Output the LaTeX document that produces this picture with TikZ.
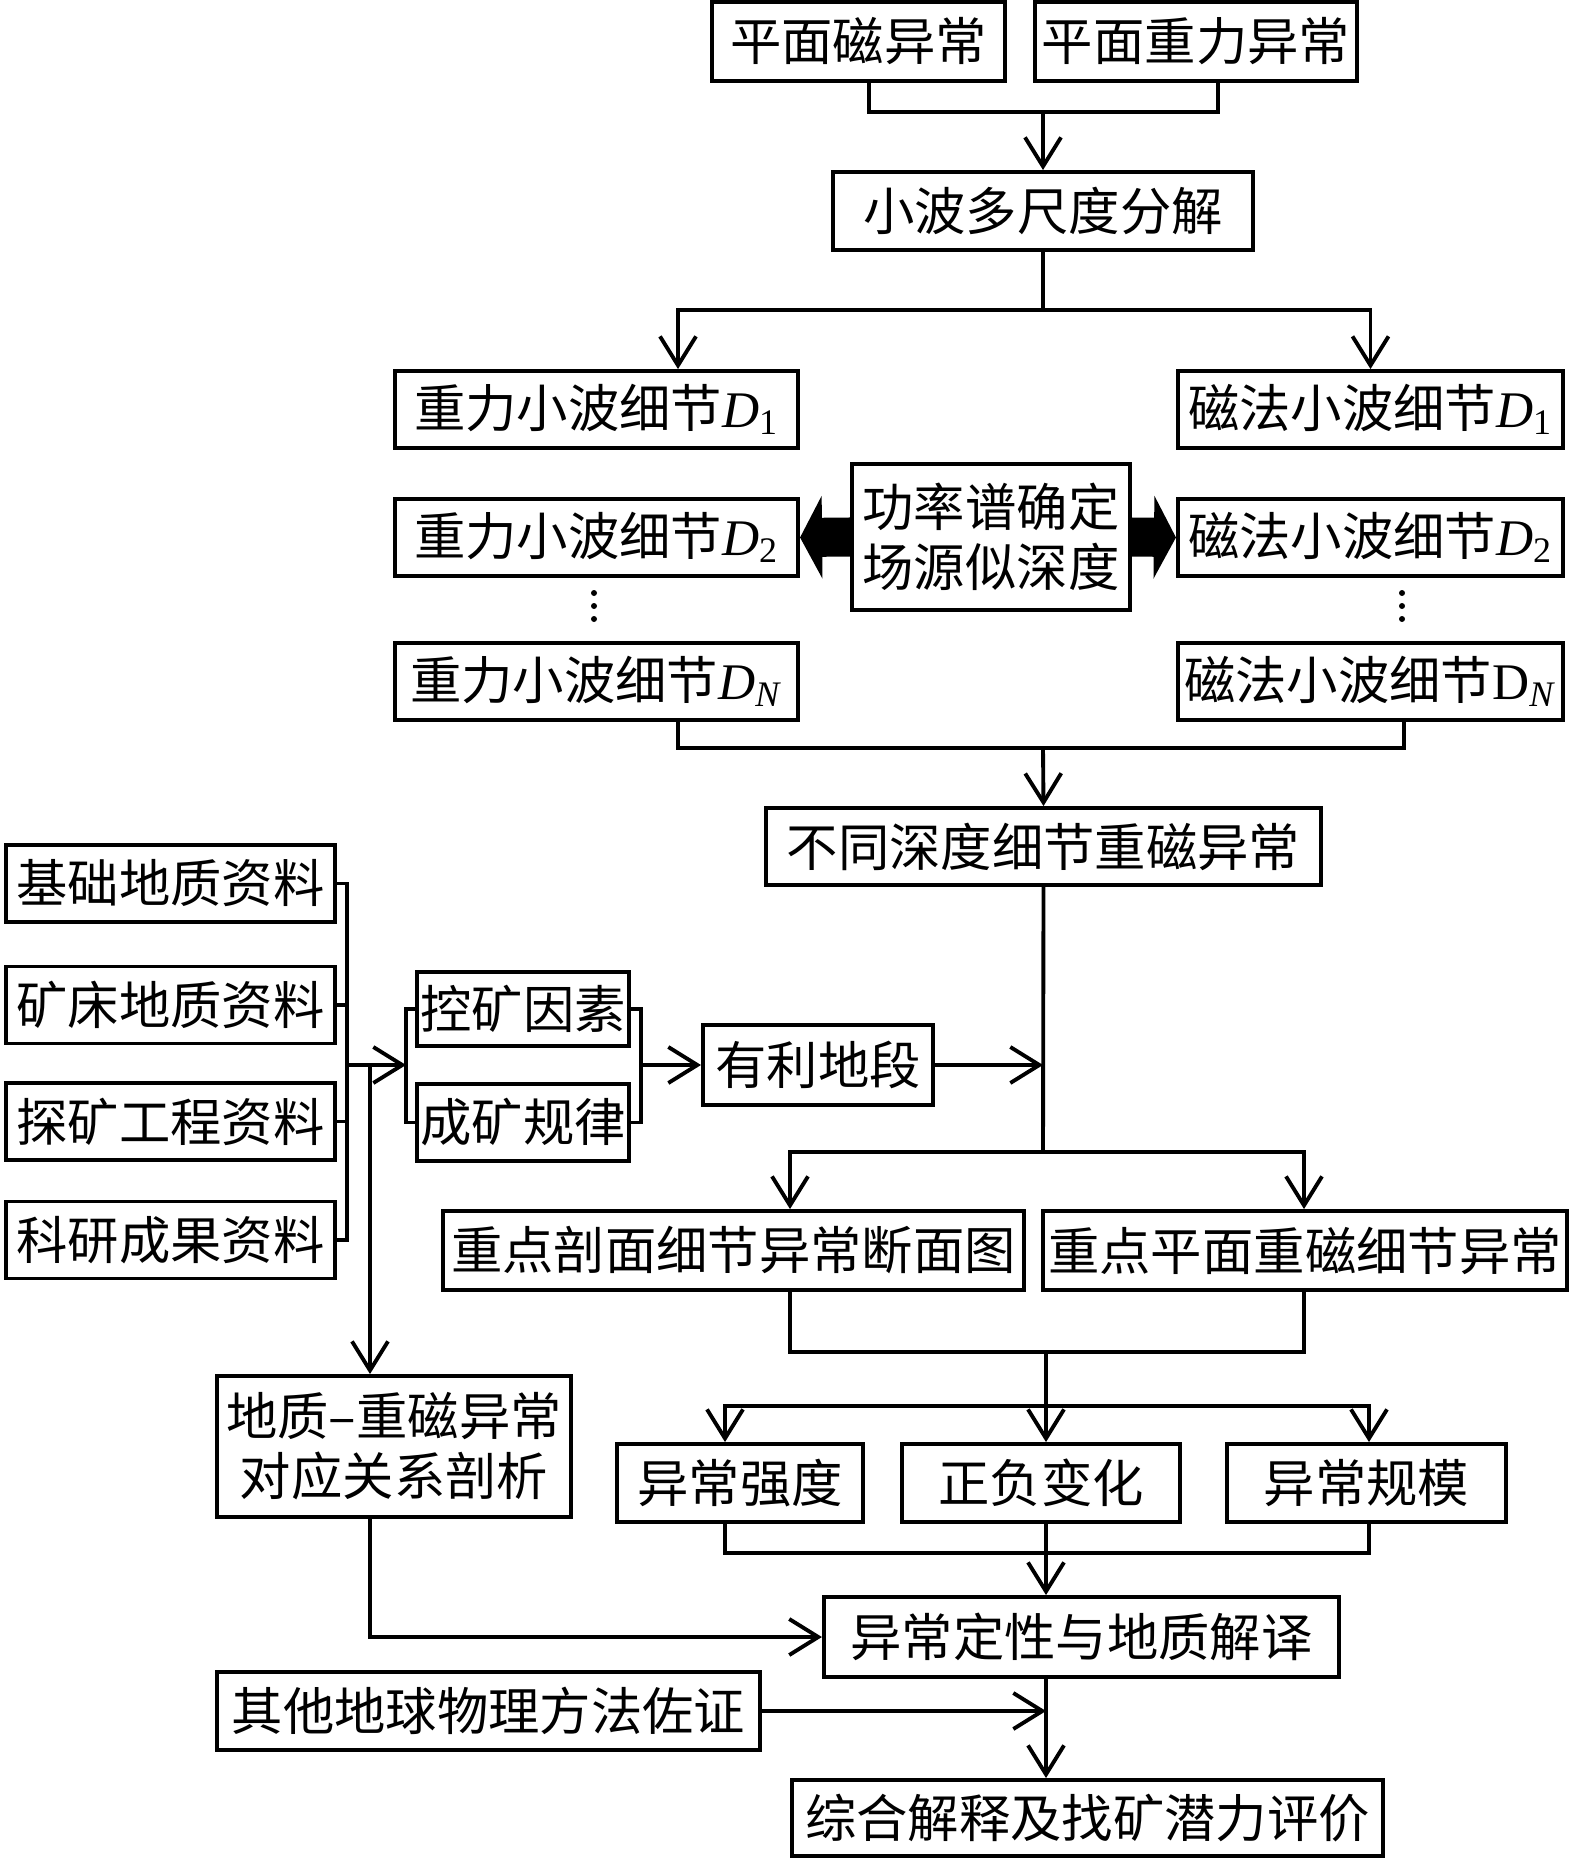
\documentclass[tikz,border=0pt]{standalone}
\usepackage{fontspec}
\setmainfont{Liberation Serif}
\newfontfamily\cjk{Noto Sans CJK SC}
\usetikzlibrary{arrows.meta,positioning}

\newcommand{\Dsub}[1]{{\rmfamily\textit{D}\textsubscript{#1}}}

\begin{document}
\begin{tikzpicture}[x=0.01cm,y=-0.01cm,line width=1.1pt,
  >={Straight Barb[length=0.29cm,width=0.36cm]},
  main node/.style={draw,line width=1.1pt,inner sep=0pt,minimum height=0.78cm,
    font=\cjk\fontsize{14.6pt}{17pt}\selectfont},
  two line node/.style={main node,align=center},
  fat arrow/.style={line width=0.39cm,-{Triangle[length=0.22cm,width=0.82cm]}}]
  \useasboundingbox (0,0) rectangle (1575,1858);

  % inputs and wavelet step
  \node[main node,minimum width=2.93cm,minimum height=0.79cm] (mag) at (858.5,41.5) {平面磁异常};
  \node[main node,minimum width=3.22cm,minimum height=0.79cm] (grav) at (1196,41.5) {平面重力异常};
  \node[main node,minimum width=4.20cm] (wavelet) at (1043,211) {小波多尺度分解};

  % wavelet details
  \node[main node,minimum width=4.03cm,minimum height=0.77cm] (gD1) at (596.5,409.5) {重力小波细节\Dsub{1}};
  \node[main node,minimum width=3.85cm,minimum height=0.77cm] (mD1) at (1370.5,409.5) {磁法小波细节\Dsub{1}};
  \node[main node,minimum width=4.03cm,minimum height=0.77cm] (gD2) at (596.5,537.5) {重力小波细节\Dsub{2}};
  \node[main node,minimum width=3.85cm,minimum height=0.77cm] (mD2) at (1370.5,537.5) {磁法小波细节\Dsub{2}};
  \node[two line node,minimum width=2.78cm,minimum height=1.46cm] (power) at (991,537) {功率谱确定\\场源似深度};
  \foreach \y in {593,606,619} {
    \fill (594,\y) circle (0.03cm);
    \fill (1402,\y) circle (0.03cm);
  }
  \node[main node,minimum width=4.03cm,minimum height=0.77cm] (gDN) at (596.5,681.5) {重力小波细节\Dsub{\textit{N}}};
  \node[main node,minimum width=3.85cm,minimum height=0.77cm] (mDN) at (1370.5,681.5) {磁法小波细节{\rmfamily D\textsubscript{\textit{N}}}};
  \node[main node,minimum width=5.55cm,minimum height=0.77cm] (depth) at (1043.5,846.5) {不同深度细节重磁异常};

  % geological data
  \node[main node,minimum width=3.29cm,minimum height=0.77cm] (base) at (170.5,883.5) {基础地质资料};
  \node[main node,minimum width=3.29cm,minimum height=0.77cm] (deposit) at (170.5,1005) {矿床地质资料};
  \node[main node,minimum width=3.29cm,minimum height=0.77cm] (explore) at (170.5,1121.5) {探矿工程资料};
  \node[main node,minimum width=3.29cm,minimum height=0.77cm] (research) at (170.5,1240) {科研成果资料};
  \node[main node,minimum width=2.12cm,minimum height=0.74cm] (ctrl) at (523,1009) {控矿因素};
  \node[main node,minimum width=2.12cm,minimum height=0.77cm] (rule) at (523,1122.5) {成矿规律};
  \node[main node,minimum width=2.30cm,minimum height=0.80cm] (favor) at (818,1065) {有利地段};

  % key anomalies
  \node[main node,minimum width=5.81cm,minimum height=0.79cm] (sect) at (733.5,1250.5) {重点剖面细节异常断面图};
  \node[main node,minimum width=5.24cm,minimum height=0.79cm] (plane) at (1305,1250.5) {重点平面重磁细节异常};
  \node[main node,minimum width=2.46cm] (intens) at (740,1483) {异常强度};
  \node[main node,minimum width=2.78cm] (sign) at (1041,1483) {正负变化};
  \node[main node,minimum width=2.79cm] (size) at (1366.5,1483) {异常规模};
  \node[two line node,minimum width=3.54cm,minimum height=1.41cm] (geomag) at (394,1446.5) {地质–重磁异常\\对应关系剖析};
  \node[main node,minimum width=5.15cm,minimum height=0.80cm] (interp) at (1081.5,1637) {异常定性与地质解译};
  \node[main node,minimum width=5.43cm] (other) at (488.5,1711) {其他地球物理方法佐证};
  \node[main node,minimum width=5.91cm,minimum height=0.76cm] (final) at (1087.5,1818) {综合解释及找矿潜力评价};

  % join points
  \coordinate (top join) at (1043,112);
  \coordinate (split1) at (1043,310);
  \coordinate (merge1) at (1043,748);
  \coordinate (split2) at (1043,1152);
  \coordinate (hub) at (347,1065);
  \coordinate (fork) at (406,1065);
  \coordinate (fork2) at (641,1065);
  \coordinate (down) at (370,1065);
  \coordinate (merge2) at (1046,1352);
  \coordinate (split3) at (1046,1406);

  \draw (mag.south -| 869,0) |- (1218,112) -- (grav.south -| 1218,0);
  \draw[->] (top join) -- (wavelet.north);
  \draw (wavelet.south) -- (split1);
  \draw[->] (split1) -| (gD1.north -| 678,0);
  \draw[->] (split1) -| (mD1.north);
  \draw[fat arrow] (power.west) -- (gD2.east);
  \draw[fat arrow] (power.east) -- (mD2.west);
  \draw (gDN.south -| 678,0) |- (1404,748) -- (mDN.south -| 1404,0);
  \draw[->] (merge1) -- (depth.north);
  \draw (depth.south) -- (split2);

  \foreach \n in {base,deposit,explore,research}
    \draw (\n.east) -| (hub);
  \draw[->] (hub) -- (fork);
  \draw (fork) |- (ctrl.west);
  \draw (fork) |- (rule.west);
  \draw (ctrl.east) -| (fork2);
  \draw (rule.east) -| (fork2);
  \draw[->] (fork2) -- (favor.west);
  \draw[->] (favor.east) -- (favor.east -| split2);
  \draw[->] (down) -- (geomag.north -| down);

  \draw[->] (split2) -| (sect.north -| 790,0);
  \draw[->] (split2) -| (plane.north -| 1304,0);
  \draw (sect.south -| 790,0) |- (1304,1352) -- (plane.south -| 1304,0);
  \draw (merge2) -- (split3);
  \draw[->] (split3) -| (intens.north -| 725,0);
  \draw[->] (split3) -| (size.north -| 1369,0);
  \draw[->] (merge2) -- (sign.north -| merge2);
  \draw (intens.south -| 725,0) |- (1369,1553) -- (size.south -| 1369,0);
  \draw[->] (sign.south -| merge2) -- (interp.north -| merge2);
  \draw[->] (geomag.south -| down) |- (interp.west);
  \draw[->] (other.east) -- (other.east -| merge2);
  \draw[->] (interp.south -| merge2) -- (final.north -| merge2);
\end{tikzpicture}
\end{document}
